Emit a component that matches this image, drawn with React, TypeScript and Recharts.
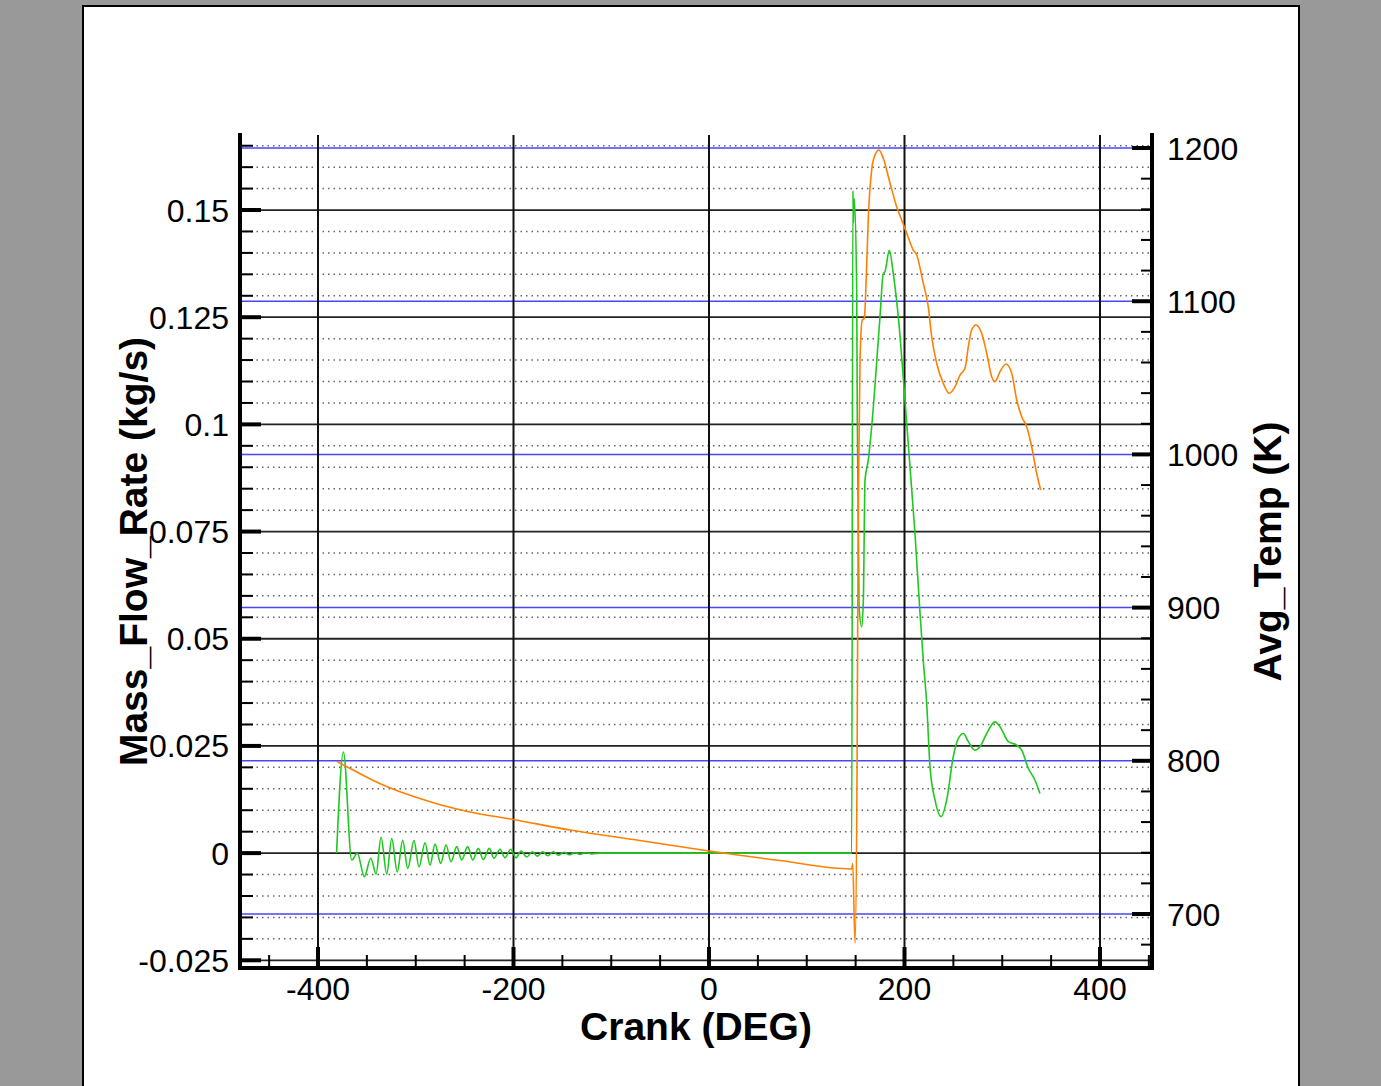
import React from "react"
import { ComposedChart, Line, XAxis, YAxis, ReferenceLine, Label } from "recharts"

// Mass flow rate (left axis)
const flowDeg = [
  -381, -374, -365.5, -359.8, -352.6, -346, -340.6, -335.5, -329.7, -324.6, -318.9, -313.4, -308.2,
  -301.8, -296.7, -290.5, -285.4, -280.3, -274.5, -269, -263.9, -258.1, -253, -246.9, -241.7, -236,
  -230.9, -224.8, -220, -213.8, -208.7, -202.9, -197.4, -192.3, -186.5, -180.8, -175.6, -170.1, -165,
  -159.3, -154.2, -148.3, -142.9, -137.1, -132, -126, -120, -110, 146, 147.2, 147.8, 148.6, 151.1,
  151.7, 153.5, 156.2, 157.9, 159.6, 163, 166.4, 174.9, 178.3, 180, 184.5, 188.5, 193.7, 200.5, 205.6,
  210.7, 215.9, 219.2, 222.7, 226.1, 231.2, 237.4, 243.2, 249.9, 255, 260.2, 265.3, 272.1, 277.2,
  284.1, 292.6, 297.7, 306.2, 314.8, 319.9, 326.6, 333.5, 338.6,
]
const flowRate = [
  0, 0.0236, -0.0016, 0.0, -0.0055, -0.0012, -0.0049, 0.0037, -0.0049, 0.0034, -0.0044, 0.003, -0.0036,
  0.0029, -0.0032, 0.0024, -0.0028, 0.0021, -0.0024, 0.0019, -0.002, 0.0015, -0.0016, 0.0015, -0.0016, 0.0011,
  -0.0015, 0.0011, -0.0012, 0.0009, -0.0011, 0.0009, -0.0011, 0.0005, -0.0009, 0.0003, -0.0007, 0.0003, -0.0006,
  0.0003, -0.0005, 0.0002, -0.0004, 0.0001, -0.0003, 0.0001, -0.0002, 0, 0, 0.1545, 0.147, 0.1527, 0.131,
  0.1017, 0.0574, 0.0528, 0.059, 0.087, 0.0917, 0.0994, 0.125, 0.1352, 0.1356, 0.1406, 0.1352, 0.125, 0.1056, 0.0901,
  0.0746, 0.0559, 0.045, 0.0349, 0.0201, 0.0124, 0.0085, 0.0124, 0.0225, 0.0267, 0.0279, 0.026, 0.024, 0.0248,
  0.0279, 0.0306, 0.0295, 0.026, 0.0252, 0.024, 0.0198, 0.017, 0.0139,
]

// Average temperature (right axis)
const tempDeg = [
  -380.6, -364.2, -338.6, -318.2, -295.7, -270.1, -244.5, -200.2, -142.2, -70.6, 0, 72.6, 146, 147,
  149.4, 151.5, 152.2, 152.9, 154.5, 156.8, 158.9, 160.3, 163, 166.4, 169.8, 173.9, 178.3, 185.2, 192,
  197.1, 202.3, 209, 212.5, 219.2, 224.3, 227.8, 232.9, 239.7, 245.8, 251.7, 256.8, 261.9, 265.3, 268.7,
  273.1, 279, 284.1, 289.2, 292.6, 297.7, 303.8, 309.7, 314.8, 319.9, 325, 330.1, 335.2, 339.3,
]
const tempK = [
  799.5, 794, 785.7, 780.3, 775.4, 770.5, 766.6, 761.7, 754.8, 748, 741.1, 734.9, 729.4, 733,
  681, 800, 900, 975, 1062, 1087.7, 1088.8, 1105, 1155, 1185.6, 1195.4, 1198.7, 1193.3, 1177, 1161.7,
  1153, 1144.3, 1133.4, 1130.2, 1111.7, 1096.4, 1076.8, 1059.5, 1046.4, 1039.9, 1044.2, 1051.8, 1056.2, 1070.3, 1081.2,
  1084.5, 1079, 1066, 1050.7, 1047.5, 1054, 1059, 1052.9, 1035.5, 1024.6, 1018.1, 1005, 987.7, 976.8,
]

const xMajor = [-400, -200, 0, 200, 400]
const xMinor = [-450, -350, -300, -250, -150, -100, -50, 50, 100, 150, 250, 300, 350, 450]
const flowMajor = [-0.025, 0, 0.025, 0.05, 0.075, 0.1, 0.125, 0.15]
const tempMajor = [700, 800, 900, 1000, 1100, 1200]

const xTicks = [...xMajor, ...xMinor].sort((a, b) => a - b)
const flowTicks = Array.from({ length: 39 }, (_, i) => Number((-0.025 + i * 0.005).toFixed(3)))
const tempTicks = Array.from({ length: 27 }, (_, i) => 680 + i * 20)

const flowData = flowDeg.map((deg, i) => ({ deg, v: flowRate[i] }))
const tempData = tempDeg.map((deg, i) => ({ deg, v: tempK[i] }))

const FONT = '"Liberation Sans", Arial, Helvetica, sans-serif'
const GAP = 11
const RGAP = 15

const isMajor = (list: number[], v: number) => list.some((m) => Math.abs(m - v) < 1e-9)
const flowMinor = flowTicks.filter((v) => !isMajor(flowMajor, v))

function XTick(props: any) {
  const { x, y, payload } = props
  const v = payload.value
  const major = isMajor(xMajor, v)
  const axisY = y - GAP
  return (
    <g>
      <line x1={x} x2={x} y1={axisY} y2={axisY - (major ? 21 : 13)} stroke="#000" strokeWidth={major ? 4 : 2} />
      {major && (
        <text x={x} y={axisY + 32} textAnchor="middle" fontSize={32} fontFamily={FONT} fill="#000">
          {v}
        </text>
      )}
    </g>
  )
}

function FlowTick(props: any) {
  const { x, y, payload } = props
  const v = payload.value
  const major = isMajor(flowMajor, v)
  const axisX = x + GAP
  return (
    <g>
      <line x1={axisX} x2={axisX + (major ? 21 : 13)} y1={y} y2={y} stroke="#000" strokeWidth={major ? 4 : 2} />
      {major && (
        <text x={x} y={y} dy="0.36em" textAnchor="end" fontSize={32} fontFamily={FONT} fill="#000">
          {Number(v.toFixed(3)).toString()}
        </text>
      )}
    </g>
  )
}

function TempTick(props: any) {
  const { x, y, payload } = props
  const v = payload.value
  const major = isMajor(tempMajor, v)
  const axisX = x - RGAP
  return (
    <g>
      <line x1={axisX} x2={axisX - (major ? 20 : 11)} y1={y} y2={y} stroke="#000" strokeWidth={major ? 4 : 2} />
      {major && (
        <text x={x} y={y} dy="0.36em" textAnchor="start" fontSize={32} fontFamily={FONT} fill="#000">
          {v}
        </text>
      )}
    </g>
  )
}

export default function App() {
  return (
    <div style={{ position: "absolute", left: 0, top: 0, width: 1381, height: 1086, background: "#999", overflow: "hidden" }}>
      <div
        style={{
          position: "absolute",
          left: 82,
          top: 5,
          width: 1218,
          height: 1100,
          background: "#fff",
          border: "2px solid #000",
          boxSizing: "border-box",
        }}
      />
      <div style={{ position: "absolute", left: 0, top: 0 }}>
        <ComposedChart width={1381} height={1086} margin={{ top: 135, right: 0, bottom: 0, left: 0 }}>
          <XAxis
            type="number"
            dataKey="deg"
            domain={[-479.8, 453.2]}
            allowDataOverflow
            ticks={xTicks}
            interval={0}
            tickSize={0}
            tickMargin={GAP}
            tickLine={false}
            tick={<XTick />}
            height={118}
            axisLine={{ stroke: "#000", strokeWidth: 4, strokeLinecap: "square" }}
          >
            <Label
              value="Crank (DEG)"
              position="insideBottom"
              offset={46}
              style={{ fontSize: 39, fontWeight: "bold", fontFamily: FONT, fill: "#000" }}
            />
          </XAxis>
          <YAxis
            yAxisId="left"
            orientation="left"
            type="number"
            domain={[-0.0268, 0.1675]}
            allowDataOverflow
            ticks={flowTicks}
            interval={0}
            tickSize={0}
            tickMargin={GAP}
            tickLine={false}
            tick={<FlowTick />}
            width={240}
            axisLine={{ stroke: "#000", strokeWidth: 4, strokeLinecap: "square" }}
          >
            <Label
              value="Mass_Flow_Rate (kg/s)"
              angle={-90}
              position="insideLeft"
              offset={133}
              style={{ textAnchor: "middle", fontSize: 39, fontWeight: "bold", fontFamily: FONT, fill: "#000" }}
            />
          </YAxis>
          <YAxis
            yAxisId="right"
            orientation="right"
            type="number"
            domain={[664.75, 1208.5]}
            allowDataOverflow
            ticks={tempTicks}
            interval={0}
            tickSize={0}
            tickMargin={RGAP}
            tickLine={false}
            tick={<TempTick />}
            width={229}
            axisLine={{ stroke: "#000", strokeWidth: 4, strokeLinecap: "square" }}
          >
            <Label
              value="Avg_Temp (K)"
              angle={-90}
              position="insideRight"
              offset={114}
              style={{ textAnchor: "middle", fontSize: 39, fontWeight: "bold", fontFamily: FONT, fill: "#000" }}
            />
          </YAxis>

          {flowMinor.map((v) => (
            <ReferenceLine
              key={`fm-${v}`}
              yAxisId="left"
              y={v}
              stroke="#666"
              strokeWidth={1.5}
              strokeDasharray="1.5 4"
            />
          ))}
          {flowMajor.map((v) => (
            <ReferenceLine key={`fl-${v}`} yAxisId="left" y={v} stroke="#222" strokeWidth={1.8} />
          ))}
          {tempMajor.map((v) => (
            <ReferenceLine key={`tl-${v}`} yAxisId="right" y={v} stroke="#4646ff" strokeWidth={1.5} />
          ))}
          {xMajor.map((v) => (
            <ReferenceLine key={`xl-${v}`} yAxisId="left" x={v} stroke="#111" strokeWidth={2} />
          ))}

          <Line
            yAxisId="left"
            data={flowData}
            dataKey="v"
            type="monotone"
            stroke="#1ec81e"
            strokeWidth={1.6}
            dot={false}
            isAnimationActive={false}
          />
          <Line
            yAxisId="right"
            data={tempData}
            dataKey="v"
            type="monotone"
            stroke="#ff8000"
            strokeWidth={1.6}
            dot={false}
            isAnimationActive={false}
          />
        </ComposedChart>
      </div>
    </div>
  )
}
